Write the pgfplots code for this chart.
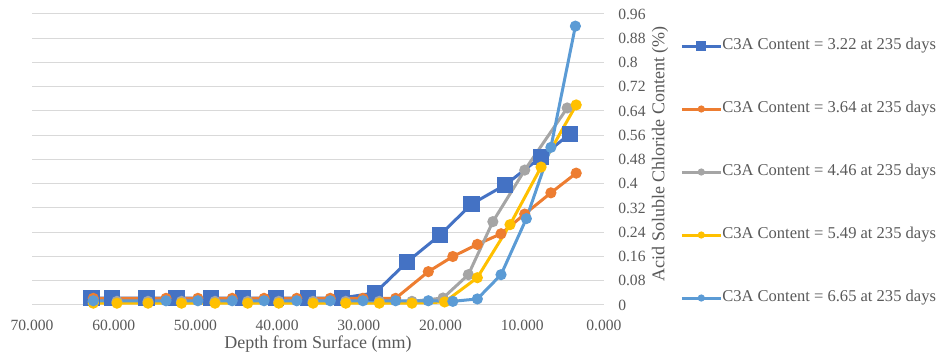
\documentclass[border=0pt]{standalone}
\usepackage{fontspec}
\setmainfont{Liberation Serif}
\usepackage{pgfplots}
\pgfplotsset{compat=1.18}
\definecolor{cBlue}{HTML}{4472C4}
\definecolor{cOrange}{HTML}{ED7D31}
\definecolor{cGray}{HTML}{A5A5A5}
\definecolor{cYellow}{HTML}{FFC000}
\definecolor{cLBlue}{HTML}{5B9BD5}
\definecolor{gridgray}{HTML}{D9D9D9}
\definecolor{labgray}{HTML}{595959}
\begin{document}
\begin{tikzpicture}[x=1pt,y=1pt]
\useasboundingbox (-24,-38.25) rectangle (681,228.75);
\begin{axis}[
  scale only axis, width=429pt, height=218.25pt,
  anchor=south west, at={(0,0)},
  x dir=reverse, xmin=0, xmax=70, ymin=0, ymax=0.96,
  clip=false,
  xtick={0,10,20,30,40,50,60,70},
  xticklabels={0.000,10.000,20.000,30.000,40.000,50.000,60.000,70.000},
  ytick={0,0.08,0.16,0.24,0.32,0.40,0.48,0.56,0.64,0.72,0.80,0.88,0.96},
  yticklabels={0,0.08,0.16,0.24,0.32,0.4,0.48,0.56,0.64,0.72,0.8,0.88,0.96},
  yticklabel pos=right,
  ymajorgrids, grid style={draw=gridgray, line width=0.75pt},
  axis line style={draw=none}, major tick length=0pt,
  tick label style={font=\fontsize{11.7}{14}\selectfont, text=labgray, inner sep=0pt},
  xticklabel style={anchor=north, yshift=-11pt},
  yticklabel style={anchor=west, xshift=10.5pt},
  label style={font=\fontsize{13.5}{16}\selectfont, text=labgray},
  xlabel={Depth from Surface (mm)},
  xlabel style={at={(axis description cs:0.5,-0.134)}, anchor=center},
  ylabel={Acid Soluble Chloride Content (\%)},
  ylabel style={at={(axis description cs:1.098,0.519)}, anchor=center, rotate=0},
  legend cell align=left,
  legend style={at={(axis description cs:1.126,0.457)}, anchor=west, draw=none, fill=none,
    font=\fontsize{12.4}{14}\selectfont, text=labgray, row sep=35.75pt,
    nodes={inner sep=0pt, text height=8.5pt, text depth=3pt}, column sep=0pt},
  legend image code/.code={\draw[mark repeat=2,mark phase=2,#1,every mark/.append style={scale=0.5}] plot coordinates {(0pt,0pt) (14.6pt,0pt) (29.2pt,0pt)};},
  every axis plot/.append style={line width=2.25pt},
]
\addplot[color=cBlue, mark=square*, mark size=5pt, mark options={solid}] coordinates {
(62.7,0.023) (60.2,0.023) (56.0,0.023) (52.3,0.023) (48.1,0.023) (44.2,0.023)
(40.1,0.023) (36.2,0.023) (32.1,0.023) (28.0,0.04) (24.1,0.142) (20.1,0.23)
(16.2,0.333) (12.1,0.396) (7.7,0.488) (4.2,0.564)};
\addlegendentry{C3A Content = 3.22 at 235 days}
\addplot[color=cOrange, mark=*, mark size=3pt] coordinates {
(62.5,0.022) (53.6,0.022) (49.7,0.022) (45.5,0.022) (41.6,0.022) (37.6,0.022)
(33.5,0.022) (29.5,0.022) (25.5,0.022) (21.5,0.11) (18.5,0.16) (15.5,0.20)
(12.6,0.235) (9.7,0.30) (6.5,0.37) (3.4,0.435)};
\addlegendentry{C3A Content = 3.64 at 235 days}
\addplot[color=cGray, mark=*, mark size=3pt] coordinates {
(62.5,0.012) (59.6,0.012) (55.8,0.012) (51.7,0.012) (47.6,0.012) (43.6,0.012)
(39.8,0.012) (35.6,0.012) (31.6,0.012) (27.5,0.012) (23.5,0.012) (19.7,0.023)
(16.6,0.10) (13.6,0.275) (9.7,0.445) (4.5,0.65)};
\addlegendentry{C3A Content = 4.46 at 235 days}
\addplot[color=cYellow, mark=*, mark size=3pt] coordinates {
(62.5,0.006) (59.6,0.006) (55.8,0.006) (51.7,0.006) (47.6,0.006) (43.6,0.006)
(39.8,0.006) (35.6,0.006) (31.6,0.006) (27.5,0.006) (23.5,0.006) (19.5,0.01)
(15.5,0.09) (11.5,0.265) (7.7,0.455) (3.4,0.66)};
\addlegendentry{C3A Content = 5.49 at 235 days}
\addplot[color=cLBlue, mark=*, mark size=3pt] coordinates {
(62.5,0.014) (53.6,0.014) (49.7,0.014) (45.5,0.014) (41.6,0.014) (37.6,0.014)
(33.5,0.014) (29.5,0.014) (25.5,0.014) (21.5,0.014) (18.5,0.012) (15.5,0.02)
(12.6,0.10) (9.5,0.285) (6.5,0.52) (3.5,0.92)};
\addlegendentry{C3A Content = 6.65 at 235 days}
\end{axis}
\end{tikzpicture}
\end{document}
